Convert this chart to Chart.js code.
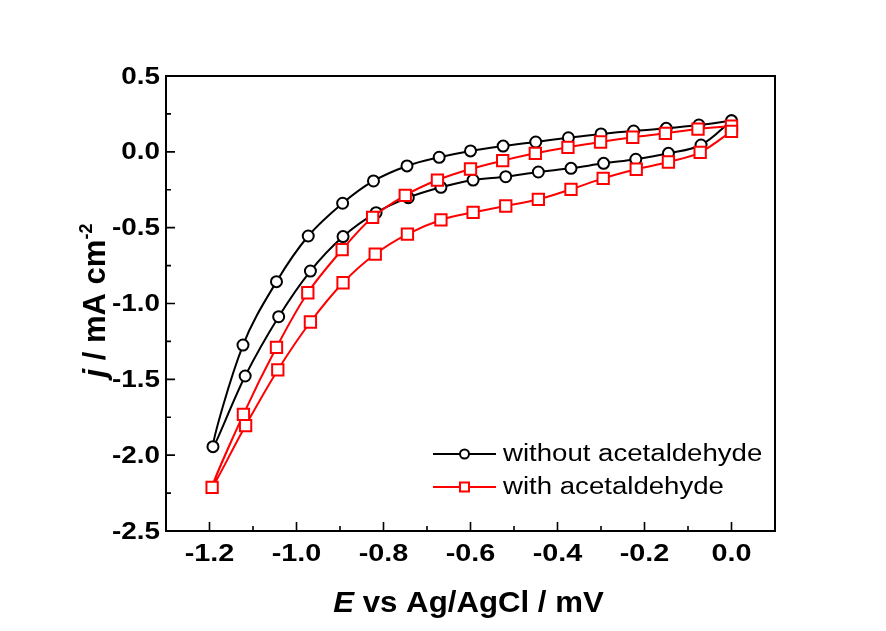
<!DOCTYPE html>
<html lang="en">
<head>
<meta charset="UTF-8">
<title>CV acetaldehyde</title>
<script src="https://cdn.jsdelivr.net/npm/chart.js"></script>
<style>
  html, body { margin: 0; padding: 0; background: #fff; }
</style>
</head>
<body>
<canvas id="cv" width="886" height="631"></canvas>
<script>
  // potential (V) and current density (mA cm-2), scan 0 -> -1.2 V and back
  const withoutE = [0.000, -0.075, -0.150, -0.225, -0.300, -0.375, -0.450, -0.525, -0.600, -0.672, -0.746, -0.823, -0.894, -0.973, -1.046, -1.123, -1.192,
                    -1.118, -1.041, -0.968, -0.893, -0.817, -0.743, -0.668, -0.594, -0.519, -0.444, -0.369, -0.294, -0.220, -0.145, -0.070, 0.000];
  const withoutJ = [0.205, 0.177, 0.155, 0.137, 0.118, 0.093, 0.065, 0.038, 0.006, -0.036, -0.093, -0.192, -0.339, -0.555, -0.856, -1.274, -1.944,
                    -1.478, -1.087, -0.786, -0.559, -0.401, -0.302, -0.234, -0.186, -0.164, -0.133, -0.109, -0.076, -0.049, -0.010, 0.045, 0.205];
  const withE = [0.000, -0.077, -0.152, -0.227, -0.301, -0.376, -0.451, -0.526, -0.600, -0.676, -0.750, -0.825, -0.895, -0.974, -1.046, -1.122, -1.194,
                 -1.117, -1.043, -0.968, -0.893, -0.819, -0.745, -0.668, -0.594, -0.519, -0.444, -0.369, -0.295, -0.219, -0.145, -0.072, 0.000];
  const withJ = [0.170, 0.150, 0.122, 0.096, 0.065, 0.030, -0.010, -0.058, -0.113, -0.186, -0.287, -0.432, -0.645, -0.929, -1.289, -1.731, -2.212,
                 -1.805, -1.438, -1.122, -0.863, -0.674, -0.542, -0.449, -0.399, -0.357, -0.313, -0.247, -0.175, -0.115, -0.067, -0.003, 0.135];

  const seriesNames = ['without acetaldehyde', 'with acetaldehyde'];
  const xTicks = [-1.2, -1.0, -0.8, -0.6, -0.4, -0.2, 0.0];
  const xMinor = [-1.1, -0.9, -0.7, -0.5, -0.3, -0.1];
  const yTicks = [0.5, 0.0, -0.5, -1.0, -1.5, -2.0, -2.5];
  const yMinor = [0.25, -0.25, -0.75, -1.25, -1.75, -2.25];

  const FONT = "'Liberation Sans', Arial, sans-serif";

  function toPoints(xs, ys) {
    return xs.map((v, i) => ({ x: v, y: ys[i] }));
  }

  // the original figure is a bit stretched sideways, so text gets a small x scale
  function stretchedText(ctx, text, x, y, sx, align) {
    const w = ctx.measureText(text).width * sx;
    let left = x;
    if (align === 'center') left = x - w / 2;
    else if (align === 'right') left = x - w;
    ctx.save();
    ctx.translate(left, y);
    ctx.scale(sx, 1);
    ctx.textAlign = 'left';
    ctx.fillText(text, 0, 0);
    ctx.restore();
  }

  // one line made of runs with different styles, centred on cx
  function drawRuns(ctx, runs, cx, cy, sx) {
    let total = 0;
    runs.forEach(r => { ctx.font = r.font; r.w = ctx.measureText(r.text).width * sx; total += r.w; });
    let x = cx - total / 2;
    runs.forEach(r => {
      ctx.font = r.font;
      stretchedText(ctx, r.text, x, cy + (r.dy || 0), sx, 'left');
      x += r.w;
    });
  }

  const framePlugin = {
    id: 'frame',
    afterDatasetsDraw(chart) {
      const { ctx, chartArea: a, scales: { x, y } } = chart;
      ctx.save();
      ctx.strokeStyle = '#000';
      ctx.lineWidth = 2;
      ctx.strokeRect(a.left, a.top, a.right - a.left, a.bottom - a.top);

      // inward ticks
      ctx.lineWidth = 1.6;
      ctx.beginPath();
      xTicks.forEach(v => { const p = x.getPixelForValue(v); ctx.moveTo(p, a.bottom); ctx.lineTo(p, a.bottom - 9); });
      xMinor.forEach(v => { const p = x.getPixelForValue(v); ctx.moveTo(p, a.bottom); ctx.lineTo(p, a.bottom - 5); });
      yTicks.forEach(v => { const p = y.getPixelForValue(v); ctx.moveTo(a.left, p); ctx.lineTo(a.left + 9, p); });
      yMinor.forEach(v => { const p = y.getPixelForValue(v); ctx.moveTo(a.left, p); ctx.lineTo(a.left + 5, p); });
      ctx.stroke();

      // tick labels
      ctx.fillStyle = '#000';
      ctx.font = 'bold 24px ' + FONT;
      ctx.textBaseline = 'middle';
      xTicks.forEach(v => stretchedText(ctx, v.toFixed(1), x.getPixelForValue(v), a.bottom + 23, 1.2, 'center'));
      yTicks.forEach(v => stretchedText(ctx, v.toFixed(1), a.left - 6, y.getPixelForValue(v) + 1, 1.16, 'right'));

      // axis titles
      ctx.textBaseline = 'alphabetic';
      drawRuns(ctx, [
        { text: 'E', font: 'italic bold 30px ' + FONT },
        { text: ' vs Ag/AgCl / mV', font: 'bold 30px ' + FONT }
      ], (a.left + a.right) / 2 - 2, 612, 1.04);

      ctx.save();
      ctx.translate(105, (a.top + a.bottom) / 2 - 3);
      ctx.rotate(-Math.PI / 2);
      drawRuns(ctx, [
        { text: 'j', font: 'italic bold 31px ' + FONT },
        { text: ' / mA cm', font: 'bold 31px ' + FONT },
        { text: '-2', font: 'bold 18px ' + FONT, dy: -13 }
      ], 0, 0, 1);
      ctx.restore();

      // legend
      const sets = chart.data.datasets;
      const lx = a.left + 267, rows = [a.top + 378, a.top + 411];
      [1, 0].forEach((di, k) => {
        const ds = sets[di];
        const ry = rows[k];
        ctx.strokeStyle = ds.borderColor;
        ctx.lineWidth = 2;
        ctx.beginPath();
        ctx.moveTo(lx, ry); ctx.lineTo(lx + 63, ry);
        ctx.stroke();
        ctx.fillStyle = '#fff';
        ctx.beginPath();
        if (ds.pointStyle === 'rect') ctx.rect(lx + 27, ry - 4.5, 9, 9);
        else ctx.arc(lx + 31.5, ry, 4.5, 0, Math.PI * 2);
        ctx.fill(); ctx.stroke();
        ctx.fillStyle = '#000';
        ctx.font = '23px ' + FONT;
        ctx.textBaseline = 'middle';
        stretchedText(ctx, ds.label, lx + 70, ry + 1, 1.2, 'left');
      });
      ctx.restore();
    }
  };

  new Chart(document.getElementById('cv'), {
    type: 'scatter',
    data: {
      datasets: [
        {
          label: seriesNames[1],
          data: toPoints(withE, withJ),
          showLine: true,
          borderColor: '#ff0000',
          borderWidth: 2,
          pointStyle: 'rect',
          pointRadius: 8,
          pointBorderWidth: 2,
          pointBackgroundColor: '#fff',
          pointBorderColor: '#ff0000',
          tension: 0.35,
          order: 0
        },
        {
          label: seriesNames[0],
          data: toPoints(withoutE, withoutJ),
          showLine: true,
          borderColor: '#000',
          borderWidth: 2,
          pointStyle: 'circle',
          pointRadius: 5.5,
          pointBorderWidth: 2,
          pointBackgroundColor: '#fff',
          pointBorderColor: '#000',
          tension: 0.35,
          order: 1
        }
      ]
    },
    options: {
      responsive: false,
      animation: false,
      devicePixelRatio: 1,
      layout: { padding: { left: 0, right: 111, top: 76, bottom: 0 } },
      plugins: { legend: { display: false }, tooltip: { enabled: false } },
      scales: {
        x: {
          type: 'linear',
          min: -1.3,
          max: 0.1,
          afterBuildTicks: s => { s.ticks = xTicks.map(v => ({ value: v })); },
          afterFit: s => { s.height = 100; },
          grid: { display: false, drawTicks: false },
          border: { display: false },
          ticks: { display: false }
        },
        y: {
          type: 'linear',
          min: -2.5,
          max: 0.5,
          afterBuildTicks: s => { s.ticks = yTicks.map(v => ({ value: v })); },
          afterFit: s => { s.width = 166; },
          grid: { display: false, drawTicks: false },
          border: { display: false },
          ticks: { display: false }
        }
      }
    },
    plugins: [framePlugin]
  });
</script>
</body>
</html>
